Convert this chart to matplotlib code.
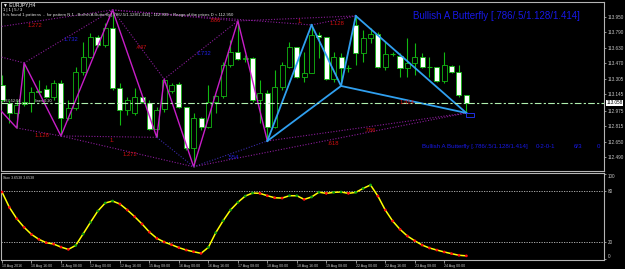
import matplotlib
matplotlib.use('Agg')
import matplotlib.pyplot as plt
import numpy as np

plt.rcParams['font.family'] = ['Liberation Sans', 'DejaVu Sans']

# EURJPY H4, 10 Aug 2016 00:00 .. 24 Aug 2016 12:00 (64 bars)
opens = [113.243, 113.056, 112.952, 113.069, 113.053, 113.184, 113.198, 113.121, 113.261, 112.897,
         113.001, 113.381, 113.537, 113.745, 113.659, 113.833, 113.209, 112.983, 112.949, 113.115,
         113.059, 112.782, 112.990, 113.184, 113.253, 113.011, 112.585, 112.897, 112.809, 113.069,
         113.129, 113.451, 113.589, 113.516, 113.521, 113.087, 113.157, 112.809, 113.219, 113.433,
         113.635, 113.329, 113.371, 113.763, 113.739, 113.302, 113.537, 113.415, 113.867, 113.573,
         113.729, 113.770, 113.427, 113.567, 113.545, 113.417, 113.469, 113.531, 113.427, 113.427,
         113.288, 113.441, 113.381, 113.139]
highs = [113.347, 113.087, 113.087, 113.472, 113.225, 113.295, 113.243, 113.295, 113.295, 113.087,
         113.433, 113.693, 113.781, 113.763, 113.885, 114.023, 113.261, 113.121, 113.209, 113.121,
         113.087, 113.017, 113.305, 113.261, 113.277, 113.017, 112.949, 112.913, 113.243, 113.139,
         113.485, 113.711, 113.909, 113.555, 113.534, 113.295, 113.191, 113.399, 113.485, 113.693,
         113.641, 113.589, 113.867, 113.797, 113.745, 113.589, 113.573, 113.451, 113.961, 113.815,
         113.836, 113.797, 113.693, 113.586, 113.573, 113.729, 113.677, 113.573, 113.537, 113.433,
         113.589, 113.451, 113.451, 113.139]
lows = [113.066, 112.848, 112.796, 113.025, 112.965, 113.157, 113.108, 113.087, 112.713, 112.879,
        112.983, 113.347, 113.521, 113.641, 113.641, 113.191, 112.827, 112.931, 112.931, 113.053,
        112.775, 112.699, 112.965, 113.157, 113.001, 112.567, 112.393, 112.775, 112.793, 112.952,
        113.105, 113.433, 113.503, 113.482, 113.066, 112.848, 112.661, 112.796, 113.191, 113.417,
        113.313, 113.277, 113.365, 113.521, 113.295, 113.277, 113.233, 113.381, 113.451, 113.485,
        113.680, 113.417, 113.399, 113.545, 113.329, 113.329, 113.347, 113.417, 113.329, 113.277,
        113.261, 113.365, 113.121, 112.952]
closes = [113.087, 112.952, 113.035, 113.045, 113.173, 113.170, 113.121, 113.261, 112.897, 113.001,
          113.381, 113.537, 113.745, 113.659, 113.833, 113.209, 112.983, 113.087, 113.115, 113.069,
          112.782, 112.983, 113.295, 113.243, 113.011, 112.585, 112.897, 112.809, 113.069, 113.129,
          113.451, 113.589, 113.510, 113.521, 113.087, 113.157, 112.809, 113.219, 113.451, 113.635,
          113.329, 113.371, 113.763, 113.745, 113.302, 113.531, 113.417, 113.417, 113.573, 113.729,
          113.770, 113.433, 113.565, 113.567, 113.417, 113.469, 113.531, 113.433, 113.427, 113.288,
          113.451, 113.381, 113.139, 113.058]

stoch = [79.2, 61.0, 47.6, 37.4, 29.0, 23.2, 19.2, 17.6, 14.0, 11.3,
         16.0, 29.5, 43.3, 56.7, 66.2, 68.5, 65.0, 57.9, 50.0, 41.3,
         31.8, 24.4, 20.0, 16.8, 13.3, 10.5, 8.5, 6.6, 13.7, 31.0,
         45.2, 57.9, 67.0, 74.4, 78.0, 77.6, 74.8, 72.4, 72.0, 74.8,
         74.8, 70.5, 73.3, 79.0, 77.6, 78.8, 79.2, 77.6, 78.8, 83.5,
         87.5, 74.4, 57.9, 44.9, 35.0, 27.1, 21.5, 16.4, 12.9, 10.5,
         8.2, 6.2, 4.3, 3.65]

xtick_bars = list(range(0, 64, 4))
xtick_labels = ['10 Aug 2016', '10 Aug 16:00', '11 Aug 08:00', '12 Aug 00:00', '12 Aug 16:00',
                '15 Aug 08:00', '16 Aug 00:00', '16 Aug 16:00', '17 Aug 08:00', '18 Aug 00:00',
                '18 Aug 16:00', '19 Aug 08:00', '22 Aug 00:00', '22 Aug 16:00', '23 Aug 08:00',
                '24 Aug 00:00']
price_ticks = [113.950, 113.790, 113.630, 113.470, 113.305, 113.145, 112.975, 112.815, 112.650, 112.490]
stoch_ticks = [0, 20, 80, 100]

# zigzag pivots (low, high, low, ...) and the butterfly X A B C D
zigzag_bars = [2, 3, 8, 15, 21, 22, 26, 32, 36]
zigzag_start = (-3, 113.212)
pattern_names = ['X', 'A', 'B', 'C', 'D']
pattern_bars = [36, 42, 46, 48, 63]
offchart = {'Q1': (-8, 113.690), 'Q2': (-7, 113.773)}

ratio_from = ['Q2', 'Q1', 'P2', 'P4', 'P6', 'P1', 'P3', 'P3', 'P5', 'P7', 'P4', 'P4', 'P8', 'A', 'X', 'P7']
ratio_to = ['P4', 'P2', 'P4', 'P6', 'P8', 'P3', 'P5', 'P7', 'P7', 'X', 'P8', 'A', 'C', 'C', 'D', 'D']
ratio_text = ['1.272', '', '1.732', '.447', '1.732', '1.128', '1.', '1.272', '', '.554', '', '.886', '1.', '1.128', '.786', '.618']

current = 113.058

W, H = 625, 269
fig = plt.figure(figsize=(W / 100, H / 100), dpi=100, facecolor='black')


def frac(x0, y0, x1, y1):
    return [x0 / W, 1 - y1 / H, (x1 - x0) / W, (y1 - y0) / H]


ax = fig.add_axes(frac(1.5, 1.5, 604, 170.5))
ax2 = fig.add_axes(frac(1.5, 173, 604, 259.5))
for a in (ax, ax2):
    a.set_facecolor('black')
    for s in a.spines.values():
        s.set_color('#b4b4b4')
        s.set_linewidth(0.8)
    a.set_xlim(-0.07, 81.68)

green = '#12b812'
x = np.arange(len(opens))
o = np.array(opens); c = np.array(closes)
ax.vlines(x, lows, highs, color=green, lw=0.8, zorder=2)
body_lo = np.minimum(o, c)
body_h = np.abs(c - o)
doji = body_h < 0.004
fills = ['black' if cc > oo else 'white' for oo, cc in zip(o, c)]
ax.bar(x[~doji], body_h[~doji], bottom=body_lo[~doji], width=0.68,
       color=[f for f, d in zip(fills, doji) if not d], edgecolor=green, linewidth=0.6, zorder=3)
ax.hlines(c[doji], x[doji] - 0.34, x[doji] + 0.34, color=green, lw=0.8, zorder=3)

# pivots
pts = dict(offchart)
for k, b in enumerate(zigzag_bars):
    pts['P%d' % (k + 1)] = (b, lows[b] if k % 2 == 0 else highs[b])
for k, (n, b) in enumerate(zip(pattern_names, pattern_bars)):
    pts[n] = (b, lows[b] if k % 2 == 0 else highs[b])

zx = [zigzag_start[0]] + zigzag_bars
zy = [zigzag_start[1]] + [pts['P%d' % (k + 1)][1] for k in range(len(zigzag_bars))]
ax.plot(zx, zy, color='#c81ec8', lw=1.0, zorder=4)

navy = {('P5', 'P7'), ('P7', 'X')}
for f, t, txt in zip(ratio_from, ratio_to, ratio_text):
    (x0, y0), (x1, y1) = pts[f], pts[t]
    col = '#3a2aa8' if (f, t) in navy else '#8a1c9a'
    ax.plot([x0, x1], [y0, y1], color=col, lw=0.8, ls=(0, (1, 1.5)), zorder=4)
    if txt:
        tc = '#2020e0' if txt in ('1.732', '.554') else '#d01010'
        ax.annotate(txt, ((x0 + x1) / 2, (y0 + y1) / 2), xytext=(2.2, -2.5),
                    textcoords='offset points', ha='center', va='center',
                    fontsize=4.2, color=tc, zorder=6)

blue = '#30a0f0'
for f, t in [('X', 'A'), ('A', 'B'), ('B', 'C'), ('C', 'D'), ('X', 'B'), ('B', 'D')]:
    ax.plot([pts[f][0], pts[t][0]], [pts[f][1], pts[t][1]], color=blue, lw=1.3, zorder=5)
bx, by = pts['B']; dx, dy = pts['D']
ax.annotate('1.414', ((bx + dx) / 2, (by + dy) / 2), xytext=(2.2, -2.5), textcoords='offset points',
            ha='center', va='center', fontsize=4.2, color='#d01010', zorder=6)
ax.add_patch(plt.Rectangle((dx, dy - 0.04), 1.1, 0.04, fill=False, edgecolor='#2030e0', lw=0.7, zorder=6))

ax.axhline(current, color='#b0f0b0', lw=0.8, ls=(0, (6, 2, 2, 2)), zorder=5)

ax.set_ylim(112.354, 114.111)
ax.set_xticks([])
ax.yaxis.tick_right()
ax.set_yticks(price_ticks)
ax.set_yticklabels(['%.3f' % v for v in price_ticks])
ax.tick_params(axis='y', labelsize=3.3, colors='#c8c8c8', length=1.5, width=0.5, pad=1)
ax.text(1.004, current, '%.3f' % current, transform=ax.get_yaxis_transform(), fontsize=3.3,
        color='black', va='center', ha='left',
        bbox=dict(boxstyle='square,pad=0.15', fc='white', ec='white', lw=0))

# stochastic panel
ax2.plot(x, stoch, color='#ffff00', lw=1.1, zorder=3)
dot_cols = ['#ff1010' if k == 0 or stoch[k] < stoch[k - 1] else '#10a010' for k in range(len(stoch))]
ax2.scatter(x, stoch, s=4, c=dot_cols, zorder=4, linewidths=0)
for lvl in (20, 80):
    ax2.axhline(lvl, color='#c0c0c0', lw=0.6, ls=(0, (1.5, 1.5)), zorder=1)
ax2.set_ylim(-0.7, 101.7)
ax2.yaxis.tick_right()
ax2.set_yticks(stoch_ticks)
ax2.set_yticklabels([str(v) for v in stoch_ticks])
ax2.tick_params(axis='y', labelsize=3.3, colors='#c8c8c8', length=1.5, width=0.5, pad=1)
labs = ax2.get_yticklabels()
labs[0].set_va('bottom')
labs[-1].set_va('top')
ax2.set_xticks(xtick_bars)
ax2.set_xticklabels(xtick_labels)
ax2.tick_params(axis='x', labelsize=2.6, colors='#c8c8c8', length=2, width=0.5, pad=1)
for lab in ax2.get_xticklabels():
    lab.set_ha('left')
ax2.text(0.003, 0.97, 'Stoc 3.6538 3.6538', transform=ax2.transAxes, fontsize=2.6,
         color='#d0d0d0', va='top', ha='left')

# header texts
fig.text(3 / W, 1 - 5 / H, '\u25bc EURJPY,H4', fontsize=3.5, color='white', va='center', ha='left')
fig.text(3 / W, 1 - 10.3 / H, '1 | 1 | 5 / 3', fontsize=3.0, color='white', va='center', ha='left')
fig.text(3 / W, 1 - 15.4 / H,
         'It is found 1 patterns  -  for pattern N 1 - Bullish A Butterfly [.786/.5/1.128/1.414] - 112.909 < Range of the prices D < 112.950',
         fontsize=3.1, color='#e0e0e0', va='center', ha='left')
fig.text(413 / W, 1 - 16 / H, 'Bullish A Butterfly [.786/.5/1.128/1.414]', fontsize=7,
         color='#1818e8', va='center', ha='left')
fig.text(422 / W, 1 - 146.5 / H, 'Bullish A Butterfly [.786/.5/1.128/1.414]', fontsize=4.4,
         color='#1818e8', va='center', ha='left')
fig.text(536 / W, 1 - 146.5 / H, '0-2-0-1', fontsize=4.4, color='#1818e8', va='center', ha='left')
fig.text(574 / W, 1 - 146.5 / H, '6/3', fontsize=4.4, color='#1818e8', va='center', ha='left')
fig.text(597 / W, 1 - 146.5 / H, '0', fontsize=4.4, color='#1818e8', va='center', ha='left')
fig.text(3 / W, 1 - 101 / H, '1:37:52:04', fontsize=2.8, color='#e0e0e0', va='center', ha='left')
fig.text(35 / W, 1 - 101 / H, 'lines 0.20', fontsize=2.8, color='#e0e0e0', va='center', ha='left')

fig.savefig('out.png', dpi=100, facecolor='black')
